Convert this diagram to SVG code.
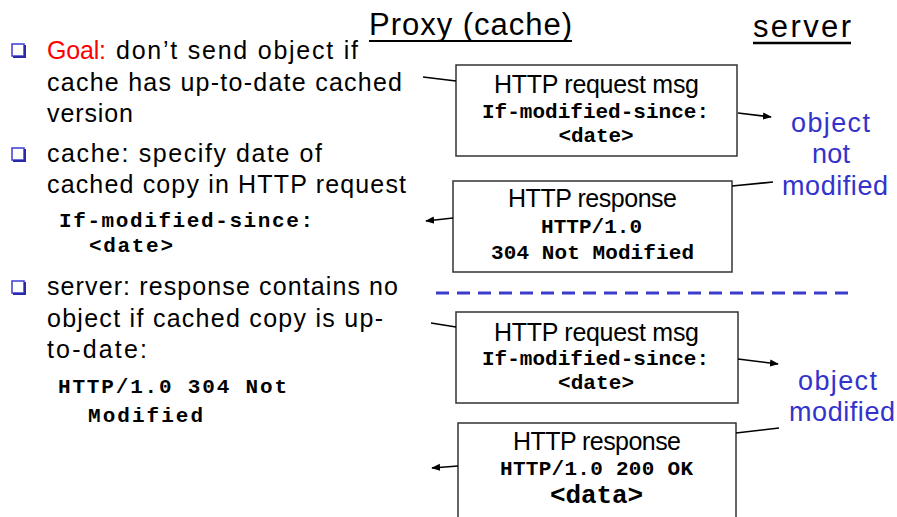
<svg xmlns="http://www.w3.org/2000/svg" width="897" height="517" viewBox="0 0 897 517">
<style>
.body{font-family:"Liberation Sans",Arial,sans-serif;font-size:25px;fill:#000}
.title{font-family:"Liberation Sans",Arial,sans-serif;font-size:31px;fill:#000}
.mono{font-family:"Liberation Mono","Courier New",monospace;font-weight:bold;font-size:21px;fill:#000}
.blue{font-family:"Liberation Sans",Arial,sans-serif;font-size:27px;fill:#3333cc}
.box{fill:#fff;stroke:#333;stroke-width:1.5}
.con{stroke:#000;stroke-width:1.6;fill:none}
.bul{fill:#fff;stroke:#4848d8;stroke-width:1.6}
.bsh{fill:none;stroke:#2a2aa8;stroke-width:2}
</style>
<defs>
<marker id="ah" viewBox="0 0 10 10" refX="9" refY="5" markerWidth="9" markerHeight="9" markerUnits="userSpaceOnUse" orient="auto">
<path d="M0,1 L10,5 L0,9 z" fill="#000"/>
</marker>
</defs>
<rect width="897" height="517" fill="#fff"/>

<g id="titles">
<text class="title" x="369" y="35" textLength="203">Proxy (cache)</text>
<line x1="369" y1="41" x2="572" y2="41" stroke="#000" stroke-width="2"/>
<text class="title" x="753" y="37" textLength="98">server</text>
<line x1="753" y1="43" x2="851" y2="43" stroke="#000" stroke-width="2.5"/>
</g>

<g id="bullets">
<rect class="bul" x="12" y="44" width="12" height="12"/>
<path class="bsh" d="M25,45 V57 H13"/>
<rect class="bul" x="12" y="148" width="12" height="12"/>
<path class="bsh" d="M25,149 V161 H13"/>
<rect class="bul" x="12" y="281" width="12" height="12"/>
<path class="bsh" d="M25,282 V294 H13"/>
</g>

<g id="left-text">
<text class="body" x="47" y="59" textLength="59" style="fill:#ff0000">Goal:</text>
<text class="body" x="116" y="59" textLength="242">don’t send object if</text>
<text class="body" x="47" y="91" textLength="355">cache has up-to-date cached</text>
<text class="body" x="47" y="122" textLength="86">version</text>
<text class="body" x="47" y="162" textLength="275">cache: specify date of</text>
<text class="body" x="47" y="193" textLength="359">cached copy in HTTP request</text>
<text class="mono" x="59" y="227" textLength="254">If-modified-since:</text>
<text class="mono" x="89" y="252" textLength="84">&lt;date&gt;</text>
<text class="body" x="47" y="295" textLength="351">server: response contains no</text>
<text class="body" x="47" y="327" textLength="336">object if cached copy is up-</text>
<text class="body" x="47" y="358" textLength="100">to-date:</text>
<text class="mono" x="58" y="393" textLength="229">HTTP/1.0 304 Not</text>
<text class="mono" x="88" y="422" textLength="115">Modified</text>
</g>

<g id="divider">
<line x1="436" y1="293" x2="848" y2="293" stroke="#3b3bcc" stroke-width="3" stroke-dasharray="13 8"/>
</g>

<g id="req1">
<rect class="box" x="456" y="65" width="281" height="91"/>
<text class="body" x="596.5" y="93" text-anchor="middle" textLength="205">HTTP request msg</text>
<text class="mono" x="595.5" y="118" text-anchor="middle" textLength="227">If-modified-since:</text>
<text class="mono" x="596" y="142" text-anchor="middle" textLength="75">&lt;date&gt;</text>
</g>

<g id="resp1">
<rect class="box" x="453" y="181" width="279" height="91"/>
<text class="body" x="592.5" y="207" text-anchor="middle" textLength="169">HTTP response</text>
<text class="mono" x="591.5" y="233" text-anchor="middle" textLength="101">HTTP/1.0</text>
<text class="mono" x="592.5" y="259" text-anchor="middle" textLength="203">304 Not Modified</text>
</g>

<g id="label1">
<text class="blue" x="830.5" y="132" text-anchor="middle" textLength="79">object</text>
<text class="blue" x="831" y="163" text-anchor="middle" textLength="38">not</text>
<text class="blue" x="835" y="195" text-anchor="middle" textLength="106">modified</text>
</g>

<g id="req2">
<rect class="box" x="456" y="312" width="282" height="91"/>
<text class="body" x="596.5" y="341" text-anchor="middle" textLength="205">HTTP request msg</text>
<text class="mono" x="595.5" y="365" text-anchor="middle" textLength="227">If-modified-since:</text>
<text class="mono" x="596" y="389" text-anchor="middle" textLength="76">&lt;date&gt;</text>
</g>

<g id="resp2">
<rect class="box" x="458" y="423" width="278" height="110"/>
<text class="body" x="597" y="450" text-anchor="middle" textLength="168">HTTP response</text>
<text class="mono" x="596.5" y="475" text-anchor="middle" textLength="193">HTTP/1.0 200 OK</text>
<text class="mono" x="596.5" y="503" text-anchor="middle" textLength="93" style="font-size:26px">&lt;data&gt;</text>
</g>

<g id="label2">
<text class="blue" x="837.5" y="390" text-anchor="middle" textLength="79">object</text>
<text class="blue" x="842" y="421" text-anchor="middle" textLength="106">modified</text>
</g>

<g id="connectors">
<line class="con" x1="423" y1="77" x2="456" y2="81"/>
<line class="con" x1="738" y1="113" x2="771" y2="117" marker-end="url(#ah)"/>
<line class="con" x1="732" y1="186" x2="773" y2="182"/>
<line class="con" x1="453" y1="218" x2="426" y2="221" marker-end="url(#ah)"/>
<line class="con" x1="431" y1="323" x2="456" y2="327"/>
<line class="con" x1="738" y1="359" x2="778" y2="364" marker-end="url(#ah)"/>
<line class="con" x1="736" y1="433" x2="779" y2="428"/>
<line class="con" x1="458" y1="466" x2="432" y2="468" marker-end="url(#ah)"/>
</g>
</svg>
